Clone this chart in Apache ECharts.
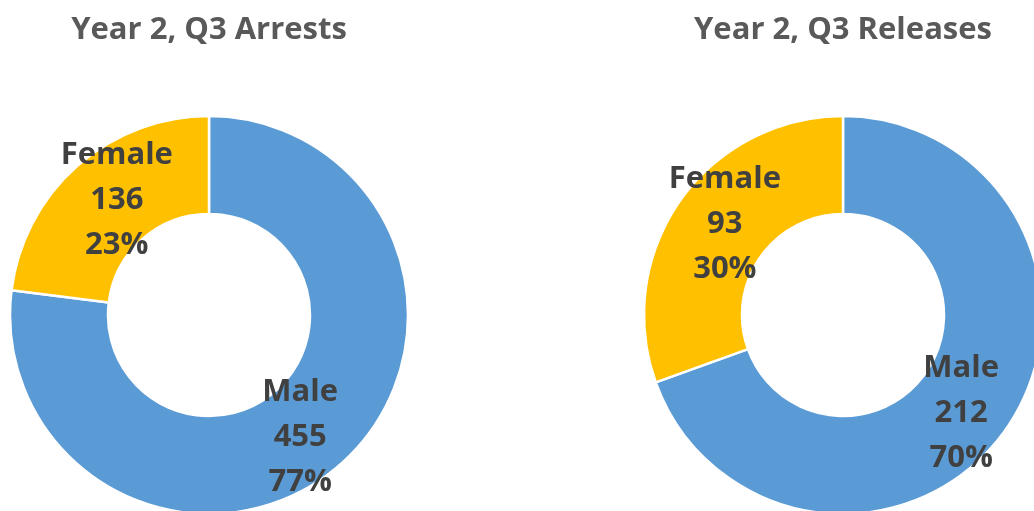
<!DOCTYPE html>
<html>
<head>
<meta charset="utf-8">
<script src="https://cdn.jsdelivr.net/npm/echarts@6/dist/echarts.min.js"></script>
<style>
html,body{margin:0;padding:0;background:#fff;}
#chart{width:1034px;height:511px;}
</style>
</head>
<body>
<div id="chart"></div>
<script>
var categories = ['Male', 'Female'];
var arrestsValues = [455, 136];
var releasesValues = [212, 93];
var chartTitles = ['Year 2, Q3 Arrests', 'Year 2, Q3 Releases'];
var colors = ['#5B9BD5', '#FFC000'];

var FONT = '"Open Sans", sans-serif';

// small label nudges (style only) so labels sit where the reference places them
var labelNudge = [
  [[-10, 7], [9, 0]],
  [[-7, 10], [7, -3]]
];

function makeData(vals) {
  return categories.map(function (c, i) {
    return { name: c, value: vals[i], itemStyle: { color: colors[i] } };
  });
}

function makeSeries(vals, cx, si) {
  return {
    type: 'pie',
    center: [cx, 315],
    radius: [101, 199],
    startAngle: 90,
    clockwise: true,
    percentPrecision: 0,
    silent: true,
    animation: false,
    itemStyle: { borderColor: '#ffffff', borderWidth: 2.5 },
    label: {
      show: true,
      position: 'inside',
      formatter: '{b}\n{c}\n{d}%',
      fontFamily: FONT,
      fontSize: 31,
      fontWeight: 'bold',
      color: '#404040',
      lineHeight: 45
    },
    labelLayout: function (p) {
      var n = labelNudge[si][p.dataIndex];
      return { dx: n[0], dy: n[1] };
    },
    labelLine: { show: false },
    emphasis: { disabled: true },
    data: makeData(vals)
  };
}

var chart = echarts.init(document.getElementById('chart'), null, { renderer: 'canvas' });
chart.setOption({
  backgroundColor: '#ffffff',
  animation: false,
  title: [
    {
      text: chartTitles[0], left: 209, top: 15, textAlign: 'center', padding: 0,
      textStyle: { fontFamily: FONT, fontSize: 31, fontWeight: 'bold', color: '#595959' }
    },
    {
      text: chartTitles[1], left: 843, top: 15, textAlign: 'center', padding: 0,
      textStyle: { fontFamily: FONT, fontSize: 31, fontWeight: 'bold', color: '#595959' }
    }
  ],
  series: [makeSeries(arrestsValues, 209, 0), makeSeries(releasesValues, 843, 1)]
});
</script>
</body>
</html>
